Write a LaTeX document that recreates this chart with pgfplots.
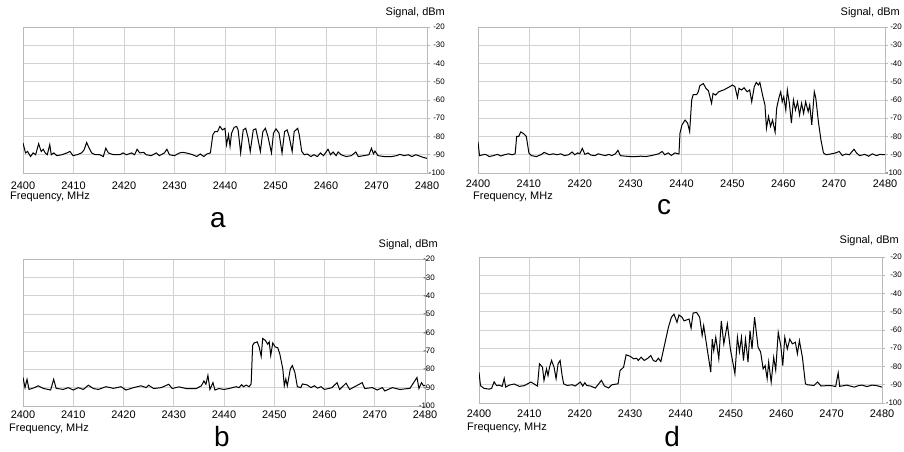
\documentclass[border=0pt]{standalone}
\usepackage{fontspec}
\setmainfont{Liberation Sans}
\usepackage{pgfplots}
\pgfplotsset{compat=1.18}

\pgfplotsset{spec/.style={
    scale only axis,
    xmin=2400, xmax=2480, ymin=-100, ymax=-20,
    xtick={2400,2410,...,2480}, ytick={-100,-90,...,-20},
    grid=major,
    major grid style={gray!35, line width=0.7bp},
    axis line style={gray!55, line width=0.7bp},
    xtick pos=bottom, ytick pos=right, yticklabel pos=right,
    tick align=outside, major tick length=3bp,
    tick style={gray!55, line width=0.6bp},
    x tick style={draw=none},
    /pgf/number format/assume math mode=true,
    /pgf/number format/1000 sep={},
    xticklabel style={font=\fontsize{11}{11}\selectfont},
    yticklabel style={font=\fontsize{8}{8}\selectfont, anchor=east, inner sep=0pt},
  },
  trace/.style={black, line width=1bp, mark=none}}

\begin{document}
\begin{tikzpicture}[x=1bp,y=1bp]
\path[use as bounding box] (0,0) rectangle (904,452);

% a
\begin{axis}[spec, at={(23bp,279bp)}, anchor=south west, width=404bp, height=146bp,
    yticklabel style={xshift=15bp}, xticklabel style={yshift=-2bp}]
\addplot[trace] coordinates {
(2400,-83.6)(2400.5,-89)(2400.9,-88.2)(2401.5,-91)(2402,-89)(2402.5,-90)(2403.1,-84)(2403.6,-88.2)
(2404,-87)(2404.4,-89)(2404.8,-90)(2405.3,-84.5)(2405.6,-90)(2406.1,-89)(2406.7,-90.5)(2407.7,-90)
(2408.7,-89)(2409.3,-88.2)(2409.9,-90.5)(2410.7,-90)(2411.6,-89)(2412.1,-87.3)(2412.6,-83.3)(2413.1,-86.4)
(2413.6,-89)(2414.3,-90)(2415.2,-90)(2415.9,-91)(2416.4,-86.4)(2416.9,-89)(2417.9,-90)(2419.2,-90)
(2419.8,-89)(2420.5,-90)(2421.5,-89)(2422.1,-90)(2422.6,-87)(2423.1,-89)(2423.9,-88.7)(2424.4,-90)
(2425.4,-90.5)(2426.4,-89)(2427,-90.5)(2428,-89)(2428.5,-87)(2429,-90)(2430,-90.5)(2431,-89)
(2431.6,-88.7)(2432.3,-89)(2433,-89.5)(2433.6,-90)(2434.4,-91)(2435.1,-89.6)(2435.8,-91)(2436.4,-89.6)
(2437.1,-89)(2437.6,-79)(2438,-77.3)(2438.5,-77.3)(2439,-74.5)(2439.5,-76.4)(2440,-75.5)(2440.3,-84.5)
(2440.7,-79)(2441,-85.5)(2441.3,-78.2)(2441.8,-75)(2442.3,-74.5)(2442.6,-76.4)(2443.1,-89)(2443.6,-76.4)
(2444.1,-75.5)(2444.6,-81)(2445,-88.2)(2445.6,-76.4)(2446.1,-75.8)(2446.5,-81)(2447,-88.2)(2447.5,-77.3)
(2448,-75.5)(2448.5,-80)(2449.2,-89)(2449.6,-78.2)(2450.1,-75.8)(2450.7,-78.2)(2451.3,-89)(2451.8,-77.3)
(2452.3,-76.4)(2452.7,-80)(2453.3,-88.2)(2453.7,-77.3)(2454.4,-75.5)(2454.7,-79)(2455.2,-88.2)(2455.7,-90)
(2456.3,-89.6)(2457,-91)(2457.6,-90)(2458.3,-91)(2458.9,-89)(2459.5,-90.5)(2460.4,-87)(2460.9,-90)
(2461.4,-88.5)(2462,-90.5)(2462.4,-88.5)(2463,-90)(2464,-91)(2465,-90.5)(2465.9,-88.5)(2466.4,-91)
(2467.5,-90.5)(2468.5,-90)(2469,-86.5)(2469.4,-89.5)(2469.7,-88)(2470.3,-90.5)(2471.5,-91)(2473,-91)
(2474,-90.5)(2474.6,-89.8)(2475.5,-90.5)(2476.3,-90)(2477,-91)(2477.8,-90)(2478.6,-90.8)(2479.3,-91.5)(2480,-92)
};
\end{axis}

% c
\begin{axis}[spec, at={(478bp,279bp)}, anchor=south west, width=407bp, height=146bp,
    yticklabel style={xshift=14bp}, xticklabel style={yshift=0bp}]
\addplot[trace] coordinates {
(2400,-83)(2400.3,-90.5)(2401,-90)(2401.5,-89.8)(2402.2,-91)(2403,-90.5)(2403.8,-89.8)(2404.5,-90.7)
(2405.2,-90)(2406,-89.5)(2406.7,-90)(2407.3,-89.5)(2407.6,-80)(2408,-80)(2408.4,-77.5)(2409,-78.5)
(2409.5,-80)(2410,-89)(2410.5,-90.5)(2411.5,-91)(2412.5,-89.8)(2413,-88.7)(2414,-90)(2414.8,-89.5)
(2415.5,-90)(2416.3,-89.5)(2417,-90.5)(2417.8,-90)(2418.5,-88.5)(2419,-90)(2419.6,-89)(2420,-89.5)
(2420.5,-86.5)(2421,-89.8)(2421.6,-89)(2422.2,-90.2)(2423,-90.5)(2423.6,-89.5)(2424.3,-90)(2425,-90.5)
(2425.7,-89.8)(2426.3,-90.5)(2427,-89.5)(2427.5,-87.6)(2428,-90.5)(2429,-90.8)(2430,-91)(2431,-91)
(2432,-90.8)(2433,-91)(2434,-90.5)(2434.8,-90)(2435.5,-89.5)(2436.2,-88.2)(2436.7,-90)(2437.4,-89)
(2438,-90.4)(2438.7,-89)(2439.5,-89.6)(2439.7,-78.2)(2440.1,-73.6)(2440.7,-71)(2441.2,-72.7)(2441.6,-77.3)
(2442,-60)(2442.3,-57)(2443,-57)(2443.3,-55.5)(2443.6,-52.2)(2444.3,-51)(2444.8,-53.6)(2445.3,-55)
(2445.9,-61.8)(2446.2,-56.4)(2446.7,-57.3)(2447.3,-55.5)(2448.3,-54.5)(2449.3,-53)(2450,-51.8)(2450.5,-52.7)
(2451,-58.7)(2451.3,-53.6)(2451.8,-54.5)(2452.3,-53.3)(2452.9,-55.5)(2453.4,-54.5)(2453.8,-61)(2454.3,-52.7)
(2454.7,-50.4)(2455.1,-51.8)(2455.4,-50.4)(2456,-58.2)(2456.4,-62.7)(2456.7,-75.5)(2457.1,-69)(2457.5,-74.5)
(2457.9,-71)(2458.4,-77.6)(2458.7,-64.5)(2459.2,-58.2)(2459.5,-55.5)(2459.8,-61)(2460.1,-58.2)(2460.5,-65.5)
(2460.8,-54.5)(2461.2,-61.8)(2461.6,-72.7)(2462,-60)(2462.4,-65.5)(2462.8,-61)(2463.2,-68.2)(2463.6,-61.8)
(2464,-67.3)(2464.4,-61)(2464.9,-66.4)(2465.2,-62.7)(2465.6,-73.6)(2466.1,-55.5)(2466.4,-59)(2466.9,-71.8)
(2467.4,-81.8)(2467.9,-89)(2468.4,-90)(2469.3,-89.6)(2470.3,-89)(2471,-88.2)(2471.6,-90.4)(2472.3,-89.6)
(2473,-90)(2473.9,-87)(2474.4,-89)(2475,-90.5)(2476,-89.8)(2476.8,-90.8)(2477.5,-89.5)(2478.3,-90.5)
(2479,-89.8)(2480,-90)
};
\end{axis}

% b
\begin{axis}[spec, at={(23bp,46bp)}, anchor=south west, width=402bp, height=147bp,
    yticklabel style={xshift=7bp}, xticklabel style={yshift=2bp}]
\addplot[trace] coordinates {
(2400,-84.5)(2400.4,-90)(2400.8,-85.5)(2401.2,-91)(2402.3,-90)(2403,-89)(2404,-90.4)(2405.5,-91.3)
(2406.1,-85.5)(2406.6,-90.4)(2408,-91)(2409,-90)(2410,-91.3)(2411,-90)(2412,-91)(2413,-88.7)
(2414,-90.5)(2415,-91)(2416.5,-89.5)(2418,-90.4)(2419.5,-89.5)(2420.5,-91.3)(2422,-90)(2423.5,-89)
(2424.5,-90)(2425,-88.7)(2426,-90.5)(2427.5,-90)(2429,-88.2)(2429.7,-90.5)(2431,-89.6)(2432.5,-90.5)
(2434.5,-90.5)(2435.5,-89)(2436,-86.4)(2436.4,-88.2)(2436.8,-83.3)(2437.2,-91)(2437.8,-87.3)(2438.2,-91.3)
(2439,-90.5)(2440,-91)(2441,-90.5)(2442.4,-89.5)(2443,-90)(2443.5,-88.4)(2443.9,-89.5)(2444.4,-88.6)
(2445,-89.5)(2445.4,-88)(2445.7,-67)(2446,-65.7)(2446.6,-65.1)(2447,-67.9)(2447.4,-73)(2447.7,-63.3)
(2448.2,-64.2)(2448.7,-66.4)(2449,-65.1)(2449.3,-72.5)(2449.7,-65.7)(2450.2,-67.9)(2450.7,-68.3)(2451.1,-71.6)
(2451.7,-79.8)(2452,-89)(2452.3,-85.3)(2452.6,-89)(2453.2,-79.8)(2453.6,-78)(2454.1,-81.7)(2454.6,-89.5)
(2455.3,-90)(2455.6,-88)(2456.6,-88.6)(2457.3,-90)(2458,-89)(2458.6,-90.3)(2459.3,-89.5)(2460,-91)
(2461.5,-90)(2462.5,-87.3)(2463,-91)(2464.3,-87.6)(2465,-91)(2466,-89.5)(2467.5,-87.3)(2468,-90.5)
(2469.5,-90)(2470.5,-91.3)(2471.5,-90)(2472,-91.8)(2473.5,-90)(2475,-91)(2477,-90.4)(2478.4,-84.5)
(2478.8,-90.5)(2479.3,-87.3)(2479.7,-89)(2480,-88.7)
};
\end{axis}

% d
\begin{axis}[spec, at={(479bp,49bp)}, anchor=south west, width=403bp, height=146bp,
    yticklabel style={xshift=17bp}, xticklabel style={yshift=0bp}]
\addplot[trace] coordinates {
(2400,-83.3)(2400.3,-90.5)(2401,-92)(2402,-92.4)(2402.5,-92)(2403,-88.4)(2403.5,-90.5)(2404,-90.2)
(2404.6,-90.9)(2405,-86.5)(2405.3,-91.3)(2406,-90.2)(2407,-89.6)(2408,-90.9)(2409,-90.5)(2410.3,-88.5)
(2411.6,-90.7)(2412,-78.5)(2412.6,-80.4)(2412.9,-87.6)(2413.4,-81.3)(2413.7,-85)(2414,-80.4)(2414.4,-76.7)
(2414.9,-80.4)(2415.3,-86.7)(2415.7,-78.5)(2416.1,-76.7)(2416.5,-85)(2416.8,-89.5)(2417.5,-90.4)(2418.5,-90)
(2419.1,-90.7)(2420.1,-88.5)(2420.6,-90.7)(2421,-88.9)(2421.4,-90.4)(2422.1,-90.7)(2423.1,-91.8)(2424.3,-87.6)
(2424.9,-90.7)(2425.7,-91.8)(2426.4,-90)(2427.6,-89.5)(2428,-82.2)(2428.7,-80.4)(2429.2,-73.6)(2430,-74.4)
(2430.7,-75.8)(2431.3,-75.5)(2431.6,-76.7)(2432.2,-74.9)(2432.8,-76.7)(2433.5,-75.5)(2434.1,-74)(2434.6,-76.7)
(2435.1,-77.3)(2435.6,-75.5)(2436.1,-77.3)(2436.8,-68.5)(2437.6,-58.5)(2438.2,-53)(2438.7,-51.3)(2439.3,-55.8)
(2439.7,-51.8)(2440.3,-53)(2440.7,-55)(2441.7,-54)(2442.1,-59)(2442.5,-50.7)(2443.2,-50.4)(2443.8,-53)
(2444.3,-63)(2444.6,-57.6)(2445.3,-70.4)(2446,-83)(2446.3,-65)(2446.6,-71.3)(2447,-64)(2447.6,-75.8)
(2448.1,-55)(2448.6,-67.6)(2449.3,-56.7)(2449.9,-70.4)(2450.8,-84)(2451.3,-64)(2451.7,-72)(2452.1,-64)
(2452.5,-76.7)(2452.9,-65)(2453.4,-77.6)(2453.8,-60.4)(2454.2,-70.4)(2454.7,-53)(2455.4,-69.5)(2455.9,-72)
(2456.4,-81.3)(2456.8,-79.5)(2457.2,-86.7)(2457.5,-77.6)(2458,-88.5)(2458.5,-75)(2458.9,-82)(2459.4,-61.3)
(2459.9,-68.5)(2460.3,-79.5)(2460.7,-64)(2461.2,-70.4)(2461.7,-65)(2462.2,-67.6)(2462.8,-66.7)(2463.2,-73)
(2463.6,-65.8)(2464.2,-75)(2464.8,-89.5)(2465.2,-90)(2466.5,-90.4)(2467.2,-88.5)(2467.9,-90.7)(2469,-90.5)
(2470,-90.5)(2470.8,-91)(2471.3,-83.5)(2471.6,-90.9)(2473,-90.2)(2474.5,-91.3)(2475.3,-90.5)(2476,-90.2)
(2477,-91)(2478,-90.2)(2479,-90.5)(2480,-91.3)
};
\end{axis}

% labels
\begin{scope}[every node/.style={inner sep=0pt, font=\fontsize{11}{11}\selectfont}]
\node[anchor=east] at (445,439) {Signal, dBm};
\node[anchor=west] at (10,255) {Frequency, MHz};
\node[anchor=east] at (900,439) {Signal, dBm};
\node[anchor=west] at (473,255) {Frequency, MHz};
\node[anchor=east] at (438,207) {Signal, dBm};
\node[anchor=west] at (9,23) {Frequency, MHz};
\node[anchor=east] at (899,211) {Signal, dBm};
\node[anchor=west] at (467,24) {Frequency, MHz};
\end{scope}
\begin{scope}[every node/.style={inner sep=0pt, font=\fontsize{28}{28}\selectfont}]
\node[anchor=base] at (218,224) {a};
\node[anchor=base] at (664,237) {c};
\node[anchor=base] at (222,5) {b};
\node[anchor=base] at (672,5) {d};
\end{scope}
\end{tikzpicture}
\end{document}
